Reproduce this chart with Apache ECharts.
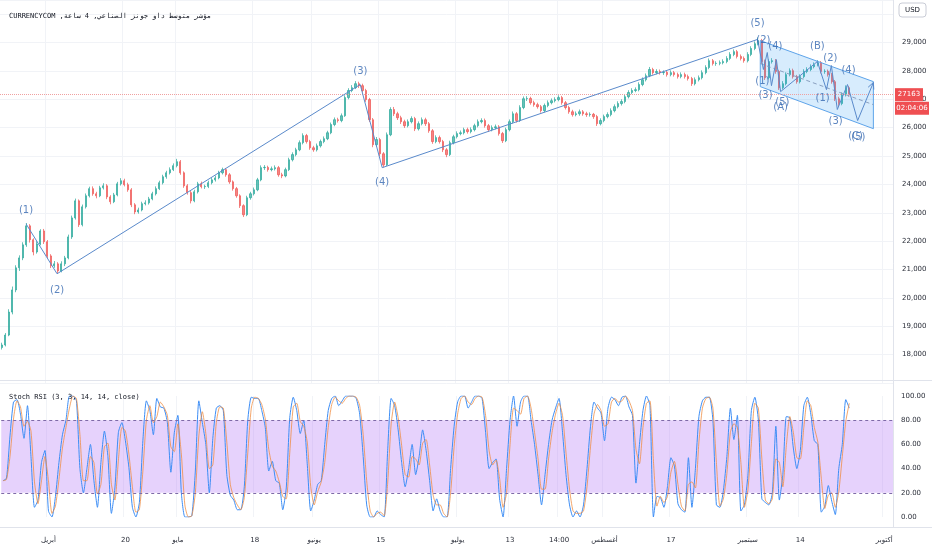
<!DOCTYPE html>
<html><head><meta charset="utf-8">
<script src="https://cdn.jsdelivr.net/npm/echarts@6/dist/echarts.min.js"></script>
<style>html,body{margin:0;padding:0;background:#fff}#c{width:932px;height:550px}</style>
</head><body><div id="c"></div>
<script>
const opens=[18250,18340,18690,19500,20280,21060,21410,21870,22540,22050,
21620,21900,22360,21980,21480,21130,21200,20950,21200,21410,
22150,22820,23420,22580,23210,23600,23850,23670,23600,23880,
23950,23560,23390,23630,24020,24130,23990,23810,23280,23030,
23100,23320,23350,23490,23670,23850,24060,24270,24410,24520,
24660,24800,24410,23950,23710,23420,23740,24020,23920,23930,
24060,24160,24230,24410,24520,24340,24090,23850,23600,23250,
22930,23530,23670,23810,24160,24590,24600,24520,24550,24590,
24340,24300,24520,24870,25050,25220,25470,25720,25510,25290,
25220,25360,25510,25610,25820,26110,26280,26250,26420,27060,
27310,27410,27550,27480,27310,26990,26280,25400,25580,25080,
24690,25750,26640,26490,26350,26210,26070,26210,26320,25960,
26140,26280,26140,25890,25510,25650,25510,25220,25050,25470,
25680,25790,25820,25930,25860,25930,26070,26210,26250,26070,
25930,26000,26030,25790,25540,25930,26210,26490,26250,26710,
27020,27030,26880,26810,26740,26600,26780,26880,26950,26990,
27060,26880,26710,26560,26460,26490,26560,26490,26460,26470,
26390,26140,26250,26390,26460,26600,26740,26850,26920,27090,
27240,27310,27340,27520,27690,27830,28050,27940,27980,27940,
27950,27870,27940,27870,27800,27870,27800,27730,27550,27690,
27760,27940,28120,28360,28260,28270,28290,28330,28440,28580,
28680,28510,28440,28360,28580,28790,28960,29070,28330,27760,
28330,28360,27980,27410,27550,27870,28010,27800,27620,27800,
27980,28050,28150,28220,28290,27980,27990,27870,27620,27020,
26850,27160,27410];
const closes=[18340,18690,19500,20280,21060,21410,21870,22540,22050,21620,
21900,22360,21980,21480,21130,21200,20950,21200,21410,22150,
22820,23420,22580,23210,23600,23850,23670,23600,23880,23950,
23560,23390,23630,24020,24130,23990,23810,23280,23030,23100,
23320,23350,23490,23670,23850,24060,24270,24410,24520,24660,
24800,24410,23950,23710,23420,23740,24020,23920,23930,24060,
24160,24230,24410,24520,24340,24090,23850,23600,23250,22930,
23530,23670,23810,24160,24590,24600,24520,24550,24590,24340,
24300,24520,24870,25050,25220,25470,25720,25510,25290,25220,
25360,25510,25610,25820,26110,26280,26250,26420,27060,27310,
27410,27550,27480,27310,26990,26280,25400,25580,25080,24690,
25750,26640,26490,26350,26210,26070,26210,26320,25960,26140,
26280,26140,25890,25510,25650,25510,25220,25050,25470,25680,
25790,25820,25930,25860,25930,26070,26210,26250,26070,25930,
26000,26030,25790,25540,25930,26210,26490,26250,26710,27020,
27030,26880,26810,26740,26600,26780,26880,26950,26990,27060,
26880,26710,26560,26460,26490,26560,26490,26460,26470,26390,
26140,26250,26390,26460,26600,26740,26850,26920,27090,27240,
27310,27340,27520,27690,27830,28050,27940,27980,27940,27950,
27870,27940,27870,27800,27870,27800,27730,27550,27690,27760,
27940,28120,28360,28260,28270,28290,28330,28440,28580,28680,
28510,28440,28360,28580,28790,28960,29070,28330,27760,28330,
28360,27980,27410,27550,27870,28010,27800,27620,27800,27980,
28050,28150,28220,28290,27980,27990,27870,27620,27020,26850,
27160,27410,27163];
const highs=[18420,18760,19600,20400,21150,21500,21960,22640,22600,22100,
22000,22420,22430,22040,21540,21300,21260,21290,21480,22230,
22900,23500,23470,23290,23680,23920,23930,23740,23950,24040,
24010,23620,23700,24090,24220,24200,24060,23870,23340,23180,
23390,23440,23560,23740,23930,24130,24340,24480,24600,24740,
24900,24860,24460,24010,23770,23810,24090,24100,23990,24130,
24240,24310,24480,24590,24580,24400,24140,23910,23650,23300,
23600,23740,23890,24230,24670,24680,24660,24630,24670,24650,
24410,24590,24940,25130,25290,25550,25800,25780,25570,25360,
25440,25580,25690,25890,26180,26360,26350,26500,27140,27390,
27500,27640,27620,27550,27370,27050,26340,25670,25640,25140,
25830,26720,26730,26560,26420,26280,26290,26400,26380,26220,
26360,26350,26200,25950,25730,25720,25570,25280,25540,25750,
25870,25900,26000,26000,26010,26140,26290,26330,26320,26130,
26080,26110,26090,25850,26000,26290,26570,26550,26790,27100,
27110,27090,26950,26880,26800,26850,26960,27030,27070,27140,
27120,26940,26770,26630,26570,26640,26620,26560,26540,26520,
26450,26330,26460,26540,26680,26820,26930,27000,27170,27320,
27390,27420,27600,27770,27910,28140,28110,28060,28050,28020,
28010,28020,28000,27940,27950,27940,27870,27790,27770,27840,
28020,28200,28440,28420,28340,28370,28410,28520,28660,28760,
28740,28580,28510,28660,28870,29040,29180,29130,28400,28410,
28450,28420,28040,27640,27950,28090,28080,27860,27880,28060,
28130,28230,28300,28380,28350,28060,28050,27930,27680,27090,
27240,27490,27470];
const lows=[18180,18290,18650,19420,20200,20950,21330,21800,21950,21500,
21560,21850,21900,21400,21050,21060,20850,20900,21120,21360,
22080,22760,22500,22520,23150,23540,23600,23510,23550,23820,
23480,23300,23340,23580,23960,23930,23740,23200,22950,22970,
23050,23260,23290,23440,23610,23800,24000,24200,24350,24470,
24600,24340,23880,23640,23330,23370,23680,23860,23840,23870,
24000,24100,24180,24350,24270,24020,23780,23530,23170,22850,
22880,23460,23610,23760,24110,24510,24450,24460,24490,24270,
24220,24250,24470,24810,24990,25170,25410,25440,25220,25150,
25160,25300,25450,25560,25770,26050,26180,26190,26380,27000,
27250,27360,27400,27240,26910,26200,25310,25320,24990,24600,
24650,25700,26410,26270,26130,25990,26010,26150,25880,25900,
26080,26060,25820,25430,25450,25440,25140,24960,25000,25410,
25620,25730,25760,25790,25800,25870,26010,26150,26000,25850,
25870,25940,25720,25460,25490,25870,26150,26180,26200,26650,
26940,26810,26740,26670,26530,26540,26720,26820,26890,26930,
26810,26640,26490,26390,26400,26420,26420,26380,26390,26310,
26060,26080,26190,26330,26400,26540,26680,26780,26860,27030,
27180,27250,27280,27460,27630,27780,27870,27880,27870,27860,
27800,27810,27800,27730,27740,27730,27660,27470,27490,27630,
27700,27880,28060,28190,28180,28200,28230,28270,28380,28520,
28440,28370,28290,28300,28520,28730,28900,28250,27680,27700,
28260,27900,27330,27350,27490,27810,27730,27550,27560,27740,
27920,27990,28090,28160,27910,27900,27800,27550,26940,26760,
26790,27100,27090];
const stochK=[30,32,67,95,97,85,65,92,50,8,
14,45,55,5,0,17,45,68,80,100,
100,96,40,20,40,60,30,8,45,71,
50,3,24,70,78,63,41,8,0,12,
63,96,88,68,98,91,90,78,37,70,
84,20,0,0,1,38,96,78,60,20,
65,90,92,88,35,18,14,6,6,25,
80,99,98,98,88,74,38,46,30,28,
6,24,82,99,88,69,80,44,5,14,
27,30,60,88,98,100,92,96,100,100,
100,98,85,50,10,0,0,5,2,0,
55,98,92,72,45,25,40,60,35,50,
72,55,30,5,15,5,0,0,40,75,
95,100,100,90,95,100,100,98,70,40,
45,48,15,0,40,80,100,75,95,100,
100,80,60,35,10,35,60,80,90,98,
70,35,10,0,5,0,10,40,75,95,
90,86,63,90,99,97,92,99,100,91,
84,28,60,88,100,92,0,17,16,8,
25,49,42,11,6,4,49,8,40,83,
96,99,99,80,10,8,22,50,90,64,
84,5,10,34,88,99,80,15,12,10,
20,75,14,35,83,82,57,40,55,92,
99,85,63,60,4,9,26,13,2,40,
60,97,90];
const stochD=[30,31,50,81,96,91,75,79,71,29,
11,30,50,30,3,9,31,57,74,90,
100,98,68,30,30,50,45,19,27,58,
61,27,14,47,74,71,52,25,4,6,
38,80,92,78,83,95,91,84,58,54,
77,52,10,0,1,20,67,87,69,40,
43,78,91,90,62,27,16,10,6,16,
53,90,99,98,93,81,56,42,38,29,
17,15,53,91,94,79,75,62,25,10,
21,29,45,74,93,99,96,94,98,100,
100,99,92,68,30,5,0,3,4,1,
28,77,95,82,59,35,33,50,48,43,
61,64,43,18,10,10,3,0,20,58,
85,98,100,95,93,98,100,99,84,55,
43,47,32,8,20,60,90,88,85,98,
100,90,70,48,23,23,48,70,85,94,
84,53,23,5,3,3,5,25,58,85,
93,88,75,77,95,98,95,96,100,96,
88,56,44,74,94,96,46,9,17,12,
17,37,46,27,9,5,27,29,24,62,
90,98,99,90,45,9,15,36,70,77,
74,45,8,22,61,94,90,48,14,11,
15,48,45,25,59,83,70,49,48,74,
96,92,74,62,32,7,18,20,8,21,
50,79,94];
const slotCount=255;
const timeTicks=[[13,'أبريل'],[35,'20'],[50,'مايو'],[72,'18'],[89,'يونيو'],[108,'15'],[130,'يوليو'],[145,'13'],[159,'14:00'],[172,'أغسطس'],[191,'17'],[213,'سبتمبر'],[228,'14'],[252,'أكتوبر']];
const wavePath=[[6.93,22610],[15.79,20850],[102.36,27520],[108.64,24590],[215.8,29110],[217.5,28050],[218.6,28650],[219.8,27480],[221.2,28400],[222.4,27270],[232.9,28330],[235.5,27340],[236.9,28190],[238.6,26640],[241.5,27520],[244.4,26250],[248.9,27590]];
const waveLabelText=['(1)','(2)','(3)','(4)','(5)','(2)','(4)','(1)','(3)','(5)','(A)','(B)','(2)','(4)','(1)','(3)','(C)','(5)'];
const waveLabelIdx=[6.93,15.8,102.4,108.6,215.8,217.5,220.9,217.2,218.1,222.9,222.4,232.9,236.6,241.8,234.4,238.1,243.8,244.6];
const waveLabelPrice=[23070,20280,27976,24058,29670,29070,28860,27620,27130,26880,26710,28860,28440,28010,27020,26210,25680,25650];
const channelPts=[[216.6,29070],[248.9,27623],[248.9,25964],[216.6,27447]];
const channelMid=[[216.6,28260],[248.9,26810]];
const stochBands=[20,80];
const lastCountdown='02:04:06';

const slots=Array.from({length:slotCount},(_,i)=>String(i));
const tickMap={};timeTicks.forEach(t=>tickMap[t[0]]=t[1]);
const candles=closes.map((c,i)=>[opens[i],c,lows[i],highs[i]]);
const lastPrice=closes[closes.length-1];
const waveLabels=waveLabelText.map((t,i)=>({name:t,value:[waveLabelIdx[i],waveLabelPrice[i]]}));
const lbl={fontSize:7,color:'#2a2e39',fontFamily:'DejaVu Sans, sans-serif'};
const waveColor='#5a8acb';

const chart=echarts.init(document.getElementById('c'));
const option={
  animation:false,
  backgroundColor:'#ffffff',
  title:[
    {text:'CURRENCYCOM ,مؤشر متوسط داو جونز الصناعي, 4 ساعة',left:4,top:8,textStyle:{fontSize:7,fontWeight:'normal',color:'#131722',fontFamily:'DejaVu Sans Mono, monospace'}},
    {text:'Stoch RSI (3, 3, 14, 14, close)',left:4,top:389,textStyle:{fontSize:7,fontWeight:'normal',color:'#131722',fontFamily:'DejaVu Sans Mono, monospace'}}
  ],
  grid:[
    {left:0,right:39,top:0,height:383},
    {left:0,right:39,top:396,height:121}
  ],
  xAxis:[
    {type:'category',gridIndex:0,data:slots,boundaryGap:true,axisLine:{show:false},axisTick:{show:false},axisLabel:{show:false},
     splitLine:{show:true,interval:(i)=>tickMap[i]!==undefined,lineStyle:{color:'#f1f3f7'}}},
    {type:'value',gridIndex:0,min:-0.5,max:slotCount-0.5,show:false},
    {type:'category',gridIndex:1,data:slots,boundaryGap:true,axisLine:{show:false},axisTick:{show:false},
     axisLabel:Object.assign({interval:0,margin:20,formatter:(v,i)=>tickMap[i]!==undefined?tickMap[i]:''},lbl),
     splitLine:{show:true,interval:(i)=>tickMap[i]!==undefined,lineStyle:{color:'#f1f3f7'}}}
  ],
  yAxis:[
    {type:'value',gridIndex:0,position:'right',min:17000,max:30500,interval:1000,axisLine:{show:false},axisTick:{show:false},
     axisLabel:Object.assign({margin:9,showMinLabel:false,showMaxLabel:false},lbl),splitLine:{lineStyle:{color:'#f1f3f7'}}},
    {type:'value',gridIndex:1,position:'right',min:0,max:100,interval:20,axisLine:{show:false},axisTick:{show:false},
     axisLabel:Object.assign({margin:8,formatter:v=>v.toFixed(2)},lbl),splitLine:{show:false}}
  ],
  series:[
    {type:'candlestick',xAxisIndex:0,yAxisIndex:0,data:candles,barMaxWidth:2.2,
     itemStyle:{color:'#26a69a',color0:'#ef5350',borderColor:'#26a69a',borderColor0:'#ef5350',borderWidth:1,opacity:0.7},
     markLine:{silent:true,symbol:['none','none'],label:{show:false},lineStyle:{type:'dotted',color:'#f0a0a0',width:1},data:[{yAxis:lastPrice}]}},
    {type:'custom',xAxisIndex:1,yAxisIndex:0,data:[channelPts[0]],z:3,silent:true,
     renderItem:function(params,api){
       const poly=channelPts.map(p=>api.coord(p));
       const a=api.coord(wavePath[wavePath.length-2]),b=api.coord(wavePath[wavePath.length-1]);
       const ang=Math.atan2(b[1]-a[1],b[0]-a[0]),L=7;
       return {type:'group',children:[
         {type:'polygon',shape:{points:poly},style:{fill:'rgba(33,150,243,0.18)',stroke:'#5ea4ea',lineWidth:1}},
         {type:'polyline',shape:{points:[[b[0]-L*Math.cos(ang-0.45),b[1]-L*Math.sin(ang-0.45)],b,[b[0]-L*Math.cos(ang+0.45),b[1]-L*Math.sin(ang+0.45)]]},style:{stroke:waveColor,fill:null,lineWidth:1}}
       ]};
     }},
    {type:'line',xAxisIndex:1,yAxisIndex:0,data:channelMid,symbol:'none',silent:true,z:4,lineStyle:{color:'#8aa0c0',width:1,type:[4,3]}},
    {type:'line',xAxisIndex:1,yAxisIndex:0,data:wavePath,symbol:'none',silent:true,z:5,lineStyle:{color:waveColor,width:1}},
    {type:'scatter',xAxisIndex:1,yAxisIndex:0,data:waveLabels,symbolSize:1,silent:true,z:6,itemStyle:{color:'rgba(0,0,0,0)'},
     label:{show:true,position:'inside',formatter:'{b}',fontSize:10,color:'#3568b0',fontFamily:'DejaVu Sans, sans-serif'}},
    {type:'line',xAxisIndex:2,yAxisIndex:1,data:stochK,symbol:'none',silent:true,z:3,smooth:0.2,lineStyle:{color:'#3c8df5',width:1},
     markArea:{silent:true,itemStyle:{color:'rgba(186,130,246,0.36)'},data:[[{yAxis:stochBands[0]},{yAxis:stochBands[1]}]]},
     markLine:{silent:true,symbol:['none','none'],label:{show:false},lineStyle:{type:[3,3],color:'#7e6aa8',width:1},data:[{yAxis:stochBands[1]},{yAxis:stochBands[0]}]}},
    {type:'line',xAxisIndex:2,yAxisIndex:1,data:stochD,symbol:'none',silent:true,z:4,smooth:0.2,lineStyle:{color:'#ef8a3c',width:1,opacity:0.75}}
  ]
};
chart.setOption(option);
const py=chart.convertToPixel({yAxisIndex:0},lastPrice);
chart.setOption({graphic:[
  {type:'line',shape:{x1:0,y1:380.5,x2:932,y2:380.5},style:{stroke:'#e0e3eb',lineWidth:1},silent:true},
  {type:'line',shape:{x1:0,y1:527.5,x2:932,y2:527.5},style:{stroke:'#e0e3eb',lineWidth:1},silent:true},
  {type:'line',shape:{x1:893.5,y1:0,x2:893.5,y2:527},style:{stroke:'#e0e3eb',lineWidth:1},silent:true},
  {type:'rect',shape:{x:899,y:3,width:27,height:14,r:3},style:{fill:'#ffffff',stroke:'#c9ccd6',lineWidth:1},z:10},
  {type:'text',x:912.5,y:10,style:{text:'USD',fontSize:7,fill:'#131722',align:'center',verticalAlign:'middle',fontFamily:'DejaVu Sans, sans-serif'},z:11},
  {type:'rect',shape:{x:895,y:py-6.5,width:28,height:13},style:{fill:'#ef4f52'},z:10},
  {type:'text',x:909,y:py,style:{text:String(lastPrice),fontSize:7,fill:'#ffffff',align:'center',verticalAlign:'middle',fontFamily:'DejaVu Sans, sans-serif'},z:11},
  {type:'rect',shape:{x:895,y:py+7,width:34,height:13},style:{fill:'#ef4f52'},z:10},
  {type:'text',x:912,y:py+13.5,style:{text:lastCountdown,fontSize:7,fill:'#ffffff',align:'center',verticalAlign:'middle',fontFamily:'DejaVu Sans, sans-serif'},z:11}
]});
</script>
</body></html>
